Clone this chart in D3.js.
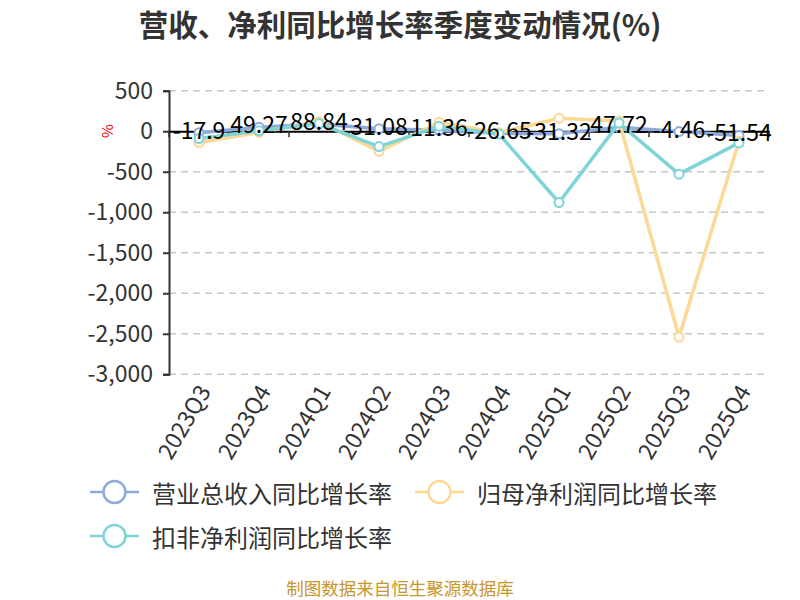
<!DOCTYPE html>
<html><head><meta charset="utf-8">
<script src="https://cdn.jsdelivr.net/npm/d3@7/dist/d3.min.js"></script>
<style>
html,body{margin:0;padding:0;background:#fff;}
text{font-family:"Noto Sans CJK SC","Noto Sans",sans-serif;}
</style></head>
<body><svg id="c" width="800" height="600"></svg>
<script>
const categories = ["2023Q3","2023Q4","2024Q1","2024Q2","2024Q3","2024Q4","2025Q1","2025Q2","2025Q3","2025Q4"];
const revenueGrowth = [-17.9, 49.27, 88.84, 31.08, 11.36, -26.65, -31.32, 47.72, -4.46, -51.54];
const netProfitGrowth = [-140, -15, 120, -250, 110, -20, 160, 125, -2540, -120];
const deductedProfitGrowth = [-90, 5, 95, -190, 60, -35, -880, 100, -530, -144];
const yTicks = [500, 0, -500, -1000, -1500, -2000, -2500, -3000];
const seriesNames = ["营业总收入同比增长率","归母净利润同比增长率","扣非净利润同比增长率"];
const seriesColors = ["#8eaadc","#fed895","#7fd4d8"];

const svg = d3.select("#c");
const loc = d3.formatLocale({decimal:".",thousands:",",grouping:[3],currency:["",""],minus:"-"});
const fmtAxis = loc.format(",");
const numFont = "'Open Sans','Noto Sans',sans-serif";

const x = d3.scaleBand().domain(categories).range([169, 769]).padding(0);
const y = d3.scaleLinear().domain([-3000, 500]).range([374.3, 90.7]);
const cx = c => x(c) + x.bandwidth()/2;

// title
svg.append("text").attr("x",400).attr("y",36).attr("text-anchor","middle")
  .attr("font-size",29.5).attr("font-weight","bold").attr("fill","#333")
  .text("营收、净利同比增长率季度变动情况(%)");

// gridlines
svg.append("g").selectAll("line").data(yTicks.filter(v=>v!==0)).join("line")
  .attr("x1",169).attr("x2",769).attr("y1",d=>y(d)).attr("y2",d=>y(d))
  .attr("stroke","#c8c8c8").attr("stroke-width",1.5).attr("stroke-dasharray","7,5");

// y axis
const ya = svg.append("g").attr("transform","translate(169,0)")
  .call(d3.axisLeft(y).tickValues(yTicks).tickFormat(fmtAxis).tickSize(6).tickPadding(10));
ya.select(".domain").attr("stroke","#333").attr("stroke-width",2);
ya.selectAll(".tick line").attr("stroke","#333").attr("stroke-width",2);
ya.selectAll(".tick text").attr("font-size",23).attr("fill","#333")
  .attr("font-family",numFont);

// y axis name
svg.append("text").attr("transform",`translate(106,${y(0)}) rotate(-90)`)
  .attr("text-anchor","middle").attr("dominant-baseline","central")
  .attr("font-size",15).attr("fill","#e00").text("%");

// x axis line at zero
const xa = svg.append("g").attr("transform",`translate(0,${y(0)})`)
  .call(d3.axisBottom(x).tickSize(0).tickFormat(""));
xa.select(".domain").attr("stroke","#000").attr("stroke-width",2);
const bounds = categories.map(c=>x(c)).concat([x(categories[categories.length-1])+x.bandwidth()]);
xa.selectAll("line.bt").data(bounds).join("line").attr("class","bt")
  .attr("x1",d=>d).attr("x2",d=>d).attr("y1",0).attr("y2",6)
  .attr("stroke","#333").attr("stroke-width",1.5);

// x labels at bottom
svg.append("g").selectAll("text").data(categories).join("text")
  .attr("transform",d=>`translate(${cx(d)+4},${y(-3000)+12}) rotate(-60)`)
  .attr("text-anchor","end").attr("dominant-baseline","central")
  .attr("font-size",23).attr("fill","#333")
  .attr("font-family",numFont)
  .text(d=>d);

// lines
const allSeries = [revenueGrowth, netProfitGrowth, deductedProfitGrowth];
const line = d3.line().x((d,i)=>cx(categories[i])).y(d=>y(d));
allSeries.forEach((s,k)=>{
  const g = svg.append("g");
  g.append("path").datum(s).attr("d",line).attr("fill","none")
    .attr("stroke",seriesColors[k]).attr("stroke-width",3.5).attr("stroke-linejoin","round");
  g.selectAll("circle").data(s).join("circle")
    .attr("cx",(d,i)=>cx(categories[i])).attr("cy",d=>y(d)).attr("r",4.5)
    .attr("fill","#fff").attr("stroke",seriesColors[k]).attr("stroke-width",2);
});

// data labels (revenue series)
svg.append("g").selectAll("text").data(revenueGrowth).join("text")
  .attr("x",(d,i)=>cx(categories[i])).attr("y",d=>y(d)+6)
  .attr("text-anchor","middle").attr("font-size",23).attr("fill","#000")
  .attr("font-family",numFont)
  .text(d=>loc.format(".2~f")(d));

// legend
const legendPos = [[90,492],[415,492],[90,536]];
seriesNames.forEach((n,k)=>{
  const [lx,ly] = legendPos[k];
  const g = svg.append("g");
  g.append("line").attr("x1",lx).attr("x2",lx+49).attr("y1",ly).attr("y2",ly)
    .attr("stroke",seriesColors[k]).attr("stroke-width",2.5);
  g.append("circle").attr("cx",lx+24.5).attr("cy",ly).attr("r",11)
    .attr("fill","#fff").attr("stroke",seriesColors[k]).attr("stroke-width",2.5);
  g.append("text").attr("x",lx+62).attr("y",ly).attr("dominant-baseline","central")
    .attr("font-size",24).attr("fill","#333").text(n);
});

// footer
svg.append("text").attr("x",400).attr("y",587).attr("text-anchor","middle")
  .attr("dominant-baseline","central").attr("font-size",17.5).attr("fill","#c8962a")
  .text("制图数据来自恒生聚源数据库");
</script></body></html>
